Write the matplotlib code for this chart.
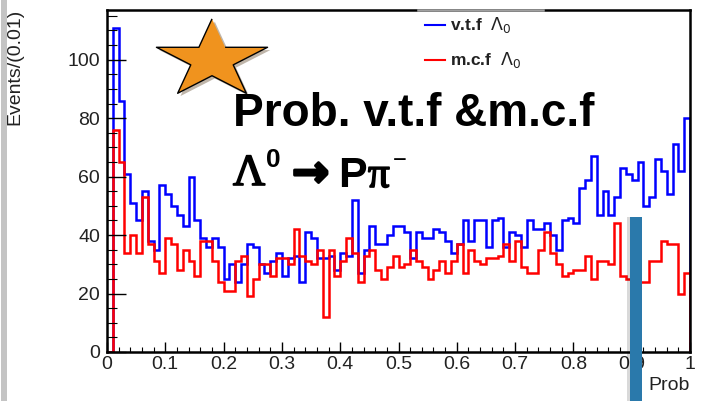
import matplotlib.pyplot as plt
import matplotlib.patheffects as pe
from matplotlib.lines import Line2D
from matplotlib.patches import Rectangle
from matplotlib.ticker import MultipleLocator
import numpy as np

# histogram: 100 bins of width 0.01 on [0, 1]
edges = np.linspace(0, 1, 101)

vtf_counts = [
    0, 111, 86, 61, 51, 45, 55, 38, 35, 57,
    54, 50, 47, 43, 60, 45, 39, 36, 39, 36,
    25, 30, 24, 30, 37, 36, 30, 27, 31, 34,
    26, 32, 33, 24, 41, 39, 32, 32, 33, 28,
    34, 33, 52, 27, 35, 43, 37, 37, 40, 43,
    43, 41, 32, 41, 39, 39, 42, 41, 38, 34,
    37, 45, 38, 45, 45, 36, 45, 46, 36, 41,
    40, 36, 45, 42, 42, 44, 40, 35, 45, 46,
    44, 56, 59, 67, 47, 55, 47, 53, 63, 61,
    59, 65, 50, 53, 66, 62, 54, 71, 62, 80,
]

mcf_counts = [
    0, 76, 65, 34, 40, 34, 53, 37, 31, 27,
    39, 37, 28, 35, 31, 26, 38, 38, 31, 24,
    21, 21, 31, 33, 19, 25, 30, 30, 26, 32,
    32, 30, 42, 33, 31, 30, 35, 12, 35, 26,
    31, 39, 34, 24, 33, 35, 28, 25, 29, 33,
    29, 30, 35, 31, 29, 25, 28, 31, 27, 31,
    37, 27, 35, 31, 30, 32, 32, 33, 37, 31,
    38, 29, 27, 27, 35, 41, 34, 30, 26, 27,
    28, 28, 33, 25, 31, 31, 30, 44, 26, 25,
    24, 24, 24, 31, 31, 38, 37, 37, 20, 27,
]

xticks = [0, 0.1, 0.2, 0.3, 0.4, 0.5, 0.6, 0.7, 0.8, 0.9, 1]
xtick_labels = ["0", "0.1", "0.2", "0.3", "0.4", "0.5", "0.6", "0.7", "0.8", "0.9", "1"]
yticks = [0, 20, 40, 60, 80, 100]

plt.rcParams['font.family'] = ['Liberation Sans', 'DejaVu Sans']
plt.rcParams['mathtext.fontset'] = 'dejavusans'

W, H = 702, 401


def px(x, y):
    # pixel position (from top-left) -> figure fraction
    return x / W, 1 - y / H


fig = plt.figure(figsize=(W / 100, H / 100), dpi=100)
ax = fig.add_axes([107 / W, 1 - 352 / H, 583 / W, 342 / H])

ax.stairs(vtf_counts, edges, color=(0, 0, 1), lw=1.8)
ax.stairs(mcf_counts, edges, color=(1, 0, 0), lw=1.8)

ax.set_xlim(0, 1)
ax.set_ylim(0, 117)
ax.set_xticks(xticks)
ax.set_xticklabels(xtick_labels)
ax.set_yticks(yticks)
ax.xaxis.set_minor_locator(MultipleLocator(0.02))
ax.yaxis.set_minor_locator(MultipleLocator(5))
ax.tick_params(axis='y', which='major', direction='in', length=14, width=1, labelsize=14, pad=5,
               labelcolor='#222222')
ax.tick_params(axis='y', which='minor', direction='in', length=7, width=0.8)
ax.tick_params(axis='x', which='major', direction='in', length=7, width=1, labelsize=14, pad=3,
               labelcolor='#222222')
ax.tick_params(axis='x', which='minor', direction='in', length=3.5, width=0.8)
for s in ax.spines.values():
    s.set_linewidth(1.8)

# axis titles, ROOT style
fig.text(*px(15, 9), "Events/(0.01)", rotation=90, ha='center', va='top', fontsize=14, color='#222222')
fig.text(*px(690, 386), "Prob", ha='right', va='center', fontsize=14, color='#222222')

# legend
fig.add_artist(Line2D([425 / W, 445 / W], [px(0, 25)[1]] * 2, color='blue', lw=1.5, transform=fig.transFigure))
fig.add_artist(Line2D([425 / W, 445 / W], [px(0, 60)[1]] * 2, color='red', lw=1.5, transform=fig.transFigure))
fig.text(*px(450, 25), r"v.t.f  $\Lambda_0$", ha='left', va='center', fontsize=12.5, weight='bold', color='#222222')
fig.text(*px(450, 60), r"m.c.f  $\Lambda_0$", ha='left', va='center', fontsize=12.5, weight='bold', color='#222222')
# grey bit of the top frame behind the legend
fig.add_artist(Line2D([418 / W, 543 / W], [px(0, 10)[1]] * 2, color='#a0a0a0', lw=1.8, transform=fig.transFigure))

# orange star, a bit wider than tall
ang = np.pi / 2 + np.arange(10) * np.pi / 5
rad = np.where(np.arange(10) % 2 == 0, 1.0, 0.382)
star = np.column_stack([1.42 * rad * np.cos(ang), rad * np.sin(ang)])
fig.add_artist(Line2D([212 / W], [px(0, 60)[1]], marker=star, markersize=80, linestyle='none',
                      mfc='#F0931E', mec='black', mew=1, transform=fig.transFigure,
                      path_effects=[pe.withSimplePatchShadow(offset=(2, -2), alpha=0.35)]))

# big annotation text
thick = [pe.withStroke(linewidth=1.2, foreground='black')]
fig.text(*px(233, 126), "Prob. v.t.f &m.c.f", ha='left', va='baseline', fontsize=33, weight='bold')
fig.text(*px(233, 185), "Λ", ha='left', va='baseline', fontsize=32, family='Liberation Serif',
         path_effects=thick)
fig.text(*px(266, 167), "0", ha='left', va='baseline', fontsize=19, weight='bold')
fig.text(*px(292, 174), "→", ha='left', va='center', fontsize=32, weight='bold', family='DejaVu Sans',
         path_effects=[pe.withStroke(linewidth=2, foreground='black')])
fig.text(*px(338, 187), "P", ha='left', va='baseline', fontsize=31, weight='bold')
fig.text(*px(368, 187), "π", ha='left', va='baseline', fontsize=31, family='Liberation Serif',
         path_effects=thick)
fig.text(*px(393, 161), "−", ha='left', va='center', fontsize=17)

# slide decorations: blue marker bar and grey left edge
fig.add_artist(Rectangle(px(627, 401), 3 / W, 184 / H, transform=fig.transFigure, color='#000000', alpha=0.15, lw=0))
fig.add_artist(Rectangle(px(630, 401), 12 / W, 184 / H, transform=fig.transFigure, color='#2a79ab', lw=0))
fig.add_artist(Rectangle((1 / W, 0), 6 / W, 1, transform=fig.transFigure, color='#c4c4c4', lw=0))

fig.savefig("out.png", dpi=100)
